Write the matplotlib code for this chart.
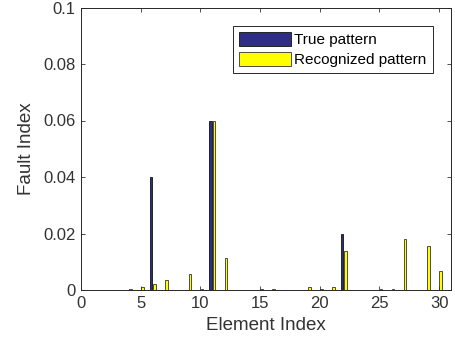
import matplotlib
matplotlib.use('Agg')
import matplotlib.pyplot as plt
import numpy as np

plt.rcParams['font.family'] = ['Liberation Sans', 'DejaVu Sans']

# Element indices and fault index values
elements = np.arange(1, 31)
true_pattern = [0, 0, 0, 0, 0, 0.04, 0, 0, 0, 0,
                0.06, 0, 0, 0, 0, 0, 0, 0, 0, 0,
                0, 0.02, 0, 0, 0, 0, 0, 0, 0, 0]
recognized = [0, 0, 0, 0.0003, 0.001, 0.002, 0.0035, 0, 0.0057, 0.0002,
              0.0597, 0.0113, 0, 0, 0.0003, 0.0002, 0, 0, 0.0012, 0.0002,
              0.0011, 0.0139, 0, 0, 0.0002, 0.0003, 0.0182, 0, 0.0154, 0.0068]

fig = plt.figure(figsize=(4.55, 3.45), dpi=100)
ax = fig.add_axes([81/455, 1-290/345, (451-81)/455, (290-7.5)/345])

w = 0.23
off = 0.143
ax.bar(elements-off, true_pattern, w, color='#2e2e86', edgecolor='#111111',
       linewidth=0.6, label='True pattern')
ax.bar(elements+off, recognized, w, color='#ffff00', edgecolor='#333333',
       linewidth=0.6, label='Recognized pattern')

ax.set_xlim(0, 31)
ax.set_ylim(0, 0.1)
ax.set_xticks([0, 5, 10, 15, 20, 25, 30])
ax.set_yticks([0, 0.02, 0.04, 0.06, 0.08, 0.1])
ax.set_yticklabels(['0', '0.02', '0.04', '0.06', '0.08', '0.1'])
ax.tick_params(direction='in', length=3, labelsize=12, colors='#333333',
               top=True, right=True, width=0.6, pad=4)
for s in ax.spines.values():
    s.set_color('#262626')
    s.set_linewidth(0.7)
ax.set_xlabel('Element Index', fontsize=13.5, color='#333333', labelpad=5)
ax.set_ylabel('Fault Index', fontsize=13.5, color='#333333', labelpad=6)

leg = ax.legend(loc='upper right', bbox_to_anchor=(0.95, 0.935), fontsize=11,
                handlelength=3.4, handleheight=1.05, handletextpad=0.2,
                borderpad=0.4, labelspacing=0.3, fancybox=False,
                framealpha=1, edgecolor='#262626', borderaxespad=0)
leg.get_frame().set_linewidth(0.7)

fig.savefig('out.png', dpi=100)
